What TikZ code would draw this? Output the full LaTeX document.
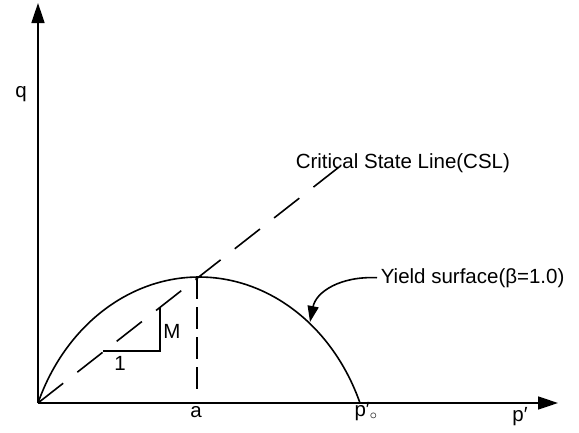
\documentclass[tikz,border=0pt]{standalone}
\usepackage{fontspec}
\setmainfont{Liberation Sans}
\usetikzlibrary{arrows.meta}
\begin{document}
\begin{tikzpicture}[x=1pt,y=-1pt, line width=1.6pt,
  lbl/.style={font=\fontsize{20.5}{24}\selectfont, inner sep=0pt, anchor=base},
  axisarrow/.style={-{Triangle[length=20pt,width=13pt]}},
  csldash/.style={dash pattern=on 32pt off 18pt},
  vdash/.style={dash pattern=on 22pt off 8pt},
  leader/.style={-{Triangle[length=16pt,width=11pt]}}]
\useasboundingbox (0,0) rectangle (579,432);
% key points
\coordinate (O) at (38,403);
\coordinate (ytip) at (38,3);
\coordinate (xtip) at (558,403);
\coordinate (P) at (197,277);
\coordinate (Pa) at (197,393);
\coordinate (cslend) at (348,160);
\coordinate (s1) at (103,351);
\coordinate (s2) at (160,307);
\coordinate (ytarget) at (310,322);
% axes
\draw[axisarrow] (O) -- (ytip);
\draw[axisarrow] (O) -- (xtip);
% yield surface
\draw plot[domain=157.7:22.3, samples=120, smooth] ({199+174*cos(\x)},{480-203*sin(\x)});
% critical state line
\draw[csldash] (O) -- (cslend);
% slope step
\draw (s1) -| (s2);
% vertical dashed line
\draw[vdash] (P) -- (Pa);
% labels
\node[lbl] (q) at (21,97) {q};
\node[lbl] (a) at (196,417) {a};
\node[lbl] (p0) at (366,416) {p′$_{\circ}$};
\node[lbl] (p) at (520,421) {p′};
\node[lbl] (one) at (120,370) {1};
\node[lbl] (M) at (172,338) {M};
\node[lbl, anchor=base west] (csl) at (295,168) {Critical State Line(CSL)};
\node[lbl, anchor=base west] (ys) at (380,283) {Yield surface(β=1.0)};
% leader arrow
\draw[leader] ([xshift=-3pt]ys.west) .. controls (340,276) and (316,292) .. (ytarget);
\end{tikzpicture}
\end{document}
